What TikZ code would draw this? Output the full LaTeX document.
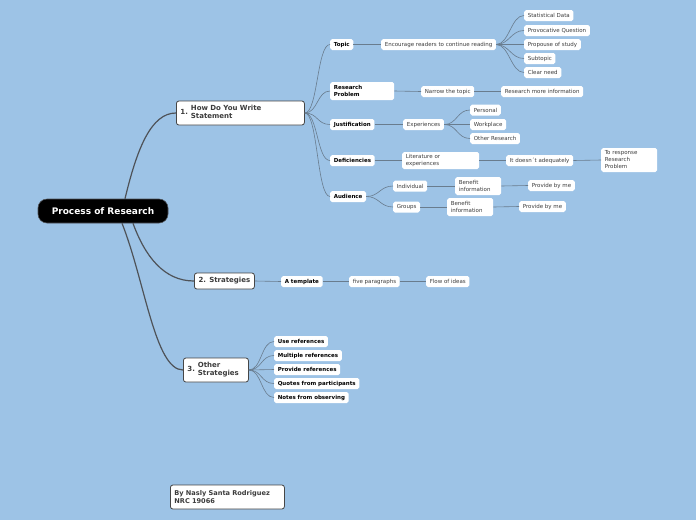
\documentclass[tikz,border=0pt]{standalone}
\usepackage{fontspec}
\setmainfont{DejaVu Sans}
\definecolor{bgcol}{RGB}{157,195,230}
\definecolor{edgecol}{RGB}{105,124,142}
\definecolor{rootedge}{RGB}{78,82,88}
\definecolor{txt}{RGB}{60,60,60}
\definecolor{boxline}{RGB}{70,70,70}
\tikzset{
  leaf/.style={anchor=west, fill=white, rounded corners=1.8pt, inner xsep=3.6pt, inner ysep=1.5pt,
    minimum height=11pt, text=txt, font=\fontsize{5.5}{7}\selectfont, align=left},
  bleaf/.style={leaf, text=black, font=\fontsize{5.5}{7}\selectfont\bfseries},
  mainbox/.style={anchor=west, fill=white, draw=boxline, line width=0.8pt, rounded corners=2.5pt,
    inner xsep=4pt, inner ysep=1pt, text=txt, font=\fontsize{7}{8}\selectfont\bfseries, align=left},
  rootbox/.style={fill=black, rounded corners=9pt, minimum width=130pt, minimum height=24pt,
    text=white, font=\fontsize{9}{10}\selectfont\bfseries, draw=rootedge, line width=0.6pt},
  conn/.style={draw=edgecol, line width=0.6pt},
  rconn/.style={draw=rootedge, line width=1.2pt},
}
\newcommand\mmlink[2]{\draw[conn] (#1.east) .. controls +(13,0) and +(-13,0) .. (#2.west);}
\begin{document}
\begin{tikzpicture}[x=1pt,y=-1pt]
\fill[bgcol] (0,0) rectangle (696,520);
\useasboundingbox (0,0) rectangle (696,520);

% root and main nodes
\node[rootbox] (root) at (103,211) {Process of Research};
\node[mainbox, text width=120pt, minimum height=24pt] (n1) at (176,113)
  {1.\hspace{3pt}\begin{tabular}[c]{@{}l@{}}How Do You Write\\Statement\end{tabular}};
\node[mainbox, minimum width=60pt, minimum height=16pt, inner xsep=4pt] (n2) at (194,281) {2. Strategies};
\node[mainbox, text width=57pt, minimum height=24pt] (n3) at (183,370)
  {3.\hspace{3pt}\begin{tabular}[c]{@{}l@{}}Other\\Strategies\end{tabular}};
\node[mainbox, text width=106pt, minimum height=24pt, font=\fontsize{6.6}{7.6}\selectfont\bfseries] (auth) at (170,497)
  {By Nasly Santa Rodriguez\\NRC 19066};

% branch 1 level 2
\node[bleaf] (topic) at (330,44.5) {Topic};
\node[bleaf, text width=56.8pt, minimum height=18pt] (rp) at (330,91) {Research\\Problem};
\node[bleaf] (just) at (330,124.5) {Justification};
\node[bleaf] (def) at (330,160.5) {Deficiencies};
\node[bleaf] (aud) at (330,196.5) {Audience};

% topic
\node[leaf] (enc) at (381,44.5) {Encourage readers to continue reading};
\node[leaf] (sd) at (524,15.5) {Statistical Data};
\node[leaf] (pq) at (524,30.5) {Provocative Question};
\node[leaf] (ps) at (524,44.5) {Propouse of study};
\node[leaf] (st) at (524,58.5) {Subtopic};
\node[leaf] (cn) at (524,72.5) {Clear need};

% research problem
\node[leaf] (nt) at (421,91.5) {Narrow the topic};
\node[leaf] (rm) at (501,91.5) {Research more information};

% justification
\node[leaf] (exp) at (403,124.5) {Experiences};
\node[leaf] (pers) at (470,110) {Personal};
\node[leaf] (work) at (470,124.5) {Workplace};
\node[leaf] (oth) at (470,138.5) {Other Research};

% deficiencies
\node[leaf, text width=69.8pt, minimum height=17pt] (lit) at (402,160.5) {Literature or\\experiences};
\node[leaf] (doesnt) at (506,160.5) {It doesn´t adequately};
\node[leaf, text width=48.8pt, minimum height=24pt] (resp) at (601,160) {To response\\Research\\Problem};

% audience
\node[leaf] (ind) at (393,186) {Individual};
\node[leaf, text width=38.8pt, minimum height=18pt] (ben1) at (455,186) {Benefit\\information};
\node[leaf] (pbm1) at (528,185.5) {Provide by me};
\node[leaf] (grp) at (393,207) {Groups};
\node[leaf, text width=38.8pt, minimum height=18pt] (ben2) at (447,207) {Benefit\\information};
\node[leaf] (pbm2) at (519,206.5) {Provide by me};

% branch 2
\node[bleaf] (tmpl) at (281,281.5) {A template};
\node[leaf] (five) at (349,281.5) {five paragraphs};
\node[leaf] (flow) at (426,281.5) {Flow of ideas};

% branch 3
\node[bleaf] (ur) at (274,341.5) {Use references};
\node[bleaf] (mr) at (274,355.5) {Multiple references};
\node[bleaf] (pr) at (274,369.5) {Provide references};
\node[bleaf] (qp) at (274,383.5) {Quotes from participants};
\node[bleaf] (no) at (274,397.5) {Notes from observing};

% root connectors
\draw[rconn] ([xshift=22pt]root.north) .. controls +(12,-50) and +(-25,0) .. (n1.west);
\draw[rconn] ([xshift=30pt]root.south) .. controls +(12,33) and +(-30,0) .. (n2.west);
\draw[rconn] ([xshift=19pt]root.south) .. controls +(23,58) and +(-28,0) .. (n3.west);

% branch 1 connectors
\mmlink{n1}{topic}
\mmlink{n1}{rp}
\mmlink{n1}{just}
\mmlink{n1}{def}
\mmlink{n1}{aud}
\mmlink{topic}{enc}
\mmlink{enc}{sd}
\mmlink{enc}{pq}
\mmlink{enc}{ps}
\mmlink{enc}{st}
\mmlink{enc}{cn}
\mmlink{rp}{nt}
\mmlink{nt}{rm}
\mmlink{just}{exp}
\mmlink{exp}{pers}
\mmlink{exp}{work}
\mmlink{exp}{oth}
\mmlink{def}{lit}
\mmlink{lit}{doesnt}
\mmlink{doesnt}{resp}
\mmlink{aud}{ind}
\mmlink{aud}{grp}
\mmlink{ind}{ben1}
\mmlink{ben1}{pbm1}
\mmlink{grp}{ben2}
\mmlink{ben2}{pbm2}

% branch 2 connectors
\mmlink{n2}{tmpl}
\mmlink{tmpl}{five}
\mmlink{five}{flow}

% branch 3 connectors
\mmlink{n3}{ur}
\mmlink{n3}{mr}
\mmlink{n3}{pr}
\mmlink{n3}{qp}
\mmlink{n3}{no}
\end{tikzpicture}
\end{document}
